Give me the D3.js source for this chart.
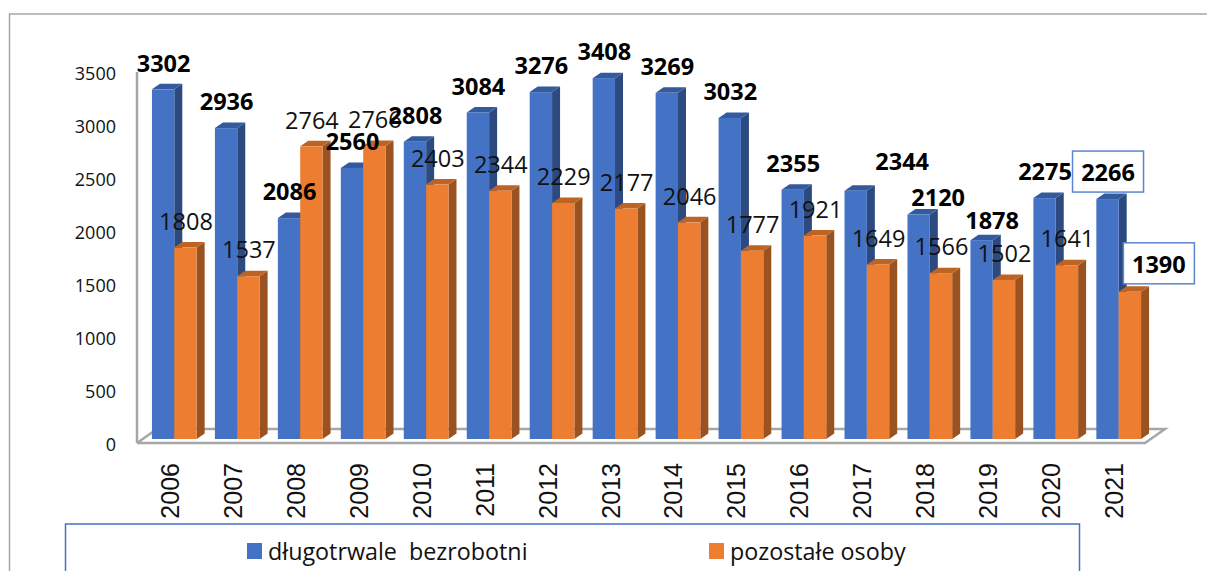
<!DOCTYPE html>
<html>
<head>
<meta charset="utf-8">
<script src="https://cdn.jsdelivr.net/npm/d3@7"></script>
<style>
  html, body { margin: 0; padding: 0; background: #fff; overflow: hidden; }
</style>
</head>
<body>
<div id="main-chart"></div>
<script>
const years = ["2006","2007","2008","2009","2010","2011","2012","2013","2014","2015","2016","2017","2018","2019","2020","2021"];
const longTerm = [3302,2936,2086,2560,2808,3084,3276,3408,3269,3032,2355,2344,2120,1878,2275,2266];
const others = [1808,1537,2764,2766,2403,2344,2229,2177,2046,1777,1921,1649,1566,1502,1641,1390];
const yTicks = [0,500,1000,1500,2000,2500,3000,3500];
const seriesNames = ["długotrwale  bezrobotni", "pozostałe osoby"];

// a few labels were dragged by hand in the original: [dx, dy] from the default spot
const longMoved = { "2017": [46, -3], "2018": [19, 9.5], "2019": [10, 7] };
const otherMoved = { "2021": [28.5, -1] };
// these two have a box round the label and are bold
const longBoxed = ["2021"];
const otherBoxed = ["2021"];

const width = 1207, height = 571;
const blue = "#4472c4", blueSide = "#2c4a80", blueTop = "#345a9e";
const orange = "#ed7d31", orangeSide = "#9a5320", orangeTop = "#bd6425";
const depthX = 8, depthY = 5.5;

const svg = d3.select("#main-chart").append("svg")
    .attr("width", width)
    .attr("height", height)
    .style("display", "block");

// outer chart frame, runs off the page
svg.append("path")
    .attr("d", "M9.5,571V14H1207")
    .attr("fill", "none")
    .attr("stroke", "#a6a6a6")
    .attr("stroke-width", 1.5);

const x = d3.scaleBand().domain(years).range([142.5, 1150.5]).paddingInner(0.29).paddingOuter(0.15);
const y = d3.scaleLinear().domain([0, 3500]).range([439, 68.4]);

// floor and back of the 3d box
svg.append("path")
    .attr("d", "M137,443L157,429H1165L1145,443H137")
    .attr("fill", "#fff")
    .attr("stroke", "#a6a6a6")
    .attr("stroke-width", 2.5);
svg.append("line")
    .attr("x1", 137).attr("x2", 137)
    .attr("y1", 72).attr("y2", 443)
    .attr("stroke", "#a6a6a6")
    .attr("stroke-width", 2.5);

const yAxis = svg.append("g")
    .attr("transform", "translate(119,5.5)")
    .call(d3.axisLeft(y).tickValues(yTicks).tickSize(0).tickFormat(d3.format("d")));
yAxis.select(".domain").remove();
yAxis.selectAll("text")
    .attr("font-family", "Open Sans")
    .attr("font-size", 18)
    .attr("fill", "#111");

const xAxis = svg.append("g");
xAxis.selectAll("text")
    .data(years)
    .enter().append("text")
    .attr("transform", d => `translate(${x(d) + x.bandwidth() / 2 + 4.5},463) rotate(-90)`)
    .attr("text-anchor", "end")
    .attr("font-family", "Liberation Sans")
    .attr("font-size", 25)
    .attr("fill", "#111")
    .text(d => d);

function drawBars(values, offset, front, side, top) {
    const w = x.bandwidth() / 2;
    const g = svg.append("g");
    years.forEach((yr, i) => {
        const x0 = x(yr) + offset * w, x1 = x0 + w;
        const y0 = y(values[i]), y1 = y(0);
        g.append("path")
            .attr("d", `M${x1},${y0}l${depthX},${-depthY}V${y1 - depthY}l${-depthX},${depthY}Z`)
            .attr("fill", side);
        g.append("path")
            .attr("d", `M${x0},${y0}l${depthX},${-depthY}H${x1 + depthX}l${-depthX},${depthY}Z`)
            .attr("fill", top);
        g.append("rect")
            .attr("x", x0).attr("y", y0)
            .attr("width", w).attr("height", y1 - y0)
            .attr("fill", front);
    });
}

drawBars(longTerm, 0, blue, blueSide, blueTop);
drawBars(others, 1, orange, orangeSide, orangeTop);

const labels = svg.append("g")
    .attr("font-family", "Open Sans")
    .attr("font-size", 23.5)
    .attr("text-anchor", "middle");

function drawLabels(values, centre, moved, boxed, weight, fill) {
    values.forEach((v, i) => {
        const nudge = moved[years[i]] || [0, 0];
        const lx = x(years[i]) + x.bandwidth() * centre + nudge[0] + 0.5;
        const ly = y(v) - 26 + nudge[1];
        const isBoxed = boxed.includes(years[i]);
        if (isBoxed) {
            labels.append("rect")
                .attr("x", lx - 35.5).attr("y", ly - 22)
                .attr("width", 71).attr("height", 41)
                .attr("fill", "#fff")
                .attr("stroke", "#5b86d0")
                .attr("stroke-width", 1.5);
        }
        labels.append("text")
            .attr("x", lx)
            .attr("y", ly)
            .attr("dy", "0.35em")
            .attr("font-weight", isBoxed ? "bold" : weight)
            .attr("fill", isBoxed ? "#000" : fill)
            .text(v);
    });
}

drawLabels(others, 0.75, otherMoved, otherBoxed, "normal", "#111");
drawLabels(longTerm, 0.25, longMoved, longBoxed, "bold", "#000");

const legend = svg.append("g");
legend.append("rect")
    .attr("x", 65.5).attr("y", 524)
    .attr("width", 1014).attr("height", 60)
    .attr("fill", "#fff")
    .attr("stroke", "#4472c4")
    .attr("stroke-width", 1.5);
[[247, blue], [709, orange]].forEach(([lx, col], i) => {
    legend.append("rect").attr("x", lx).attr("y", 543).attr("width", 15).attr("height", 16).attr("fill", col);
    legend.append("text")
        .attr("x", lx + 21).attr("y", 560)
        .attr("font-family", "Open Sans").attr("font-size", 23.3)
        .attr("fill", "#111")
        .style("white-space", "pre")
        .text(seriesNames[i]);
});
</script>
</body>
</html>
